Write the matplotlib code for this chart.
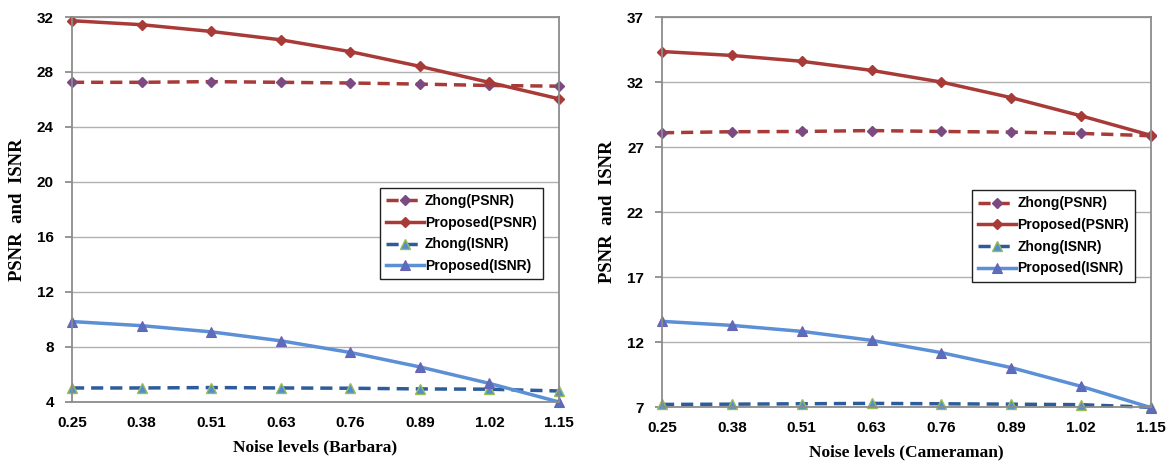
import numpy as np
import matplotlib
matplotlib.use('Agg')
import matplotlib.pyplot as plt

noise = ['0.25', '0.38', '0.51', '0.63', '0.76', '0.89', '1.02', '1.15']

# Barbara
barb_zhong_psnr = [27.25, 27.25, 27.3, 27.25, 27.2, 27.12, 27.02, 26.97]
barb_prop_psnr = [31.73, 31.44, 30.95, 30.34, 29.48, 28.41, 27.24, 26.05]
barb_zhong_isnr = [5.02, 5.02, 5.05, 5.02, 5.0, 4.95, 4.93, 4.8]
barb_prop_isnr = [9.85, 9.55, 9.1, 8.45, 7.6, 6.55, 5.35, 4.0]

# Cameraman
cam_zhong_psnr = [28.1, 28.18, 28.2, 28.27, 28.2, 28.15, 28.05, 27.87]
cam_prop_psnr = [34.35, 34.05, 33.6, 32.9, 32.0, 30.8, 29.4, 27.9]
cam_zhong_isnr = [7.2, 7.22, 7.25, 7.28, 7.25, 7.22, 7.18, 6.98]
cam_prop_isnr = [13.59, 13.28, 12.82, 12.13, 11.18, 10.03, 8.59, 6.95]

red = '#A83A38'
dblue = '#2E5C9A'
lblue = '#5B8FD6'

fig = plt.figure(figsize=(11.69, 4.62), dpi=100)
ax1 = fig.add_axes([0.0616, 0.1299, 0.4166, 0.8333])
ax2 = fig.add_axes([0.5663, 0.119, 0.4183, 0.844])


def draw(ax, zp, pp, zi, pi, yticks, xlabel, legpos):
    x = np.arange(len(noise))
    ax.plot(x, zp, '--', color=red, lw=2.5, dashes=(3.5, 2), marker='D', ms=5,
            mfc='#7A4A80', mec='#7A4A80', label='Zhong(PSNR)', clip_on=False)
    ax.plot(x, pp, '-', color=red, lw=2.5, marker='D', ms=5,
            mfc=red, mec=red, label='Proposed(PSNR)', clip_on=False)
    ax.plot(x, zi, '--', color=dblue, lw=2.5, dashes=(3.5, 2), marker='^', ms=7,
            mfc='#4F8FCF', mec='#9BBB59', mew=1, label='Zhong(ISNR)', clip_on=False)
    ax.plot(x, pi, '-', color=lblue, lw=2.5, marker='^', ms=7,
            mfc='#5670C0', mec='#7060B0', mew=0.8, label='Proposed(ISNR)', clip_on=False)
    ax.set_xlim(0, len(noise) - 1)
    ax.set_ylim(yticks[0], yticks[-1])
    ax.set_yticks(yticks)
    ax.set_xticks(x)
    ax.set_xticklabels(noise)
    ax.yaxis.grid(True, color='#B0B0B0', lw=1)
    ax.set_axisbelow(True)
    for s in ax.spines.values():
        s.set_color('#8C8C8C')
        s.set_linewidth(1.3)
    ax.tick_params(axis='y', length=5, width=1.3, color='#8C8C8C', labelsize=11, pad=8)
    ax.tick_params(axis='x', length=0, labelsize=11, pad=10)
    for t in ax.get_xticklabels() + ax.get_yticklabels():
        t.set_fontweight('bold')
        t.set_family('Liberation Sans')
    ax.set_xlabel(xlabel, family='Liberation Serif', fontweight='bold', fontsize=12.5, labelpad=7)
    ax.set_ylabel('PSNR  and  ISNR', family='Liberation Serif', fontweight='bold', fontsize=13.5, labelpad=8)
    leg = ax.legend(loc='upper left', bbox_to_anchor=legpos, fancybox=False, framealpha=1,
                    edgecolor='#202020', prop={'family': 'Liberation Sans', 'weight': 'bold', 'size': 10},
                    handlelength=2.7, handletextpad=0.1, labelspacing=0.55, borderpad=0.45,
                    borderaxespad=0)
    leg.get_frame().set_linewidth(1)


draw(ax1, barb_zhong_psnr, barb_prop_psnr, barb_zhong_isnr, barb_prop_isnr,
     [4, 8, 12, 16, 20, 24, 28, 32], 'Noise levels (Barbara)', (0.632, 0.556))
draw(ax2, cam_zhong_psnr, cam_prop_psnr, cam_zhong_isnr, cam_prop_isnr,
     [7, 12, 17, 22, 27, 32, 37], 'Noise levels (Cameraman)', (0.634, 0.556))

fig.savefig('out.png', dpi=100)
